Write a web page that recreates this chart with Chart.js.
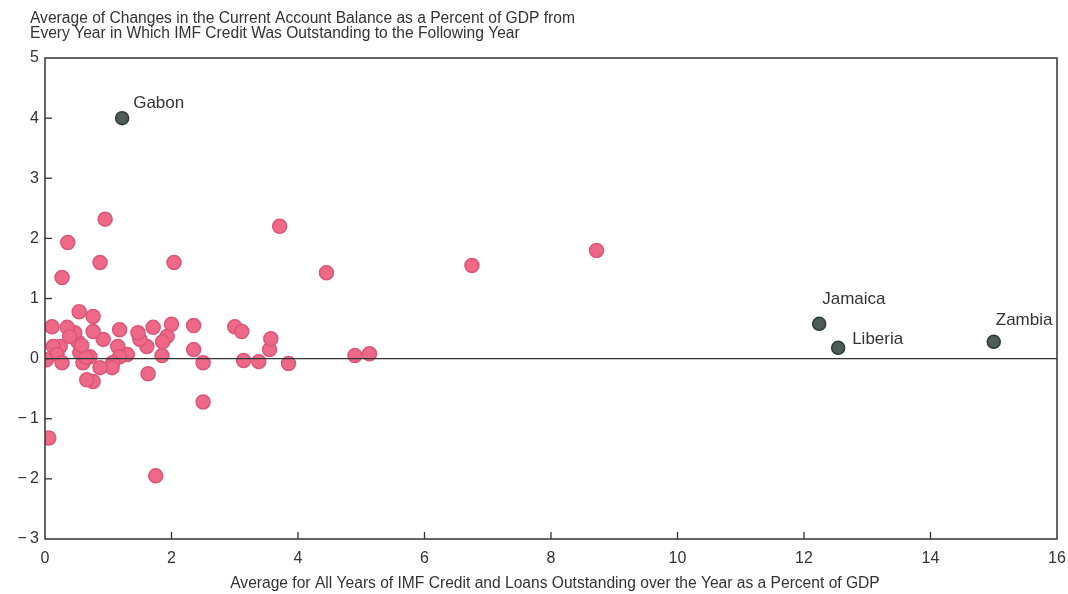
<!DOCTYPE html>
<html>
<head>
<meta charset="utf-8">
<script src="https://cdn.jsdelivr.net/npm/chart.js@4.4.1/dist/chart.umd.min.js"></script>
<style>
  html, body { margin: 0; padding: 0; background: #ffffff; }
  #wrap { width: 1068px; height: 594px; position: relative; }
</style>
</head>
<body>
<div id="wrap"><canvas id="c" width="1068" height="594"></canvas></div>
<script>
// ---- Data ----
const titleLines = [
  "Average of Changes in the Current Account Balance as a Percent of GDP from",
  "Every Year in Which IMF Credit Was Outstanding to the Following Year"
];
const xAxisTitle = "Average for All Years of IMF Credit and Loans Outstanding over the Year as a Percent of GDP";

const otherX = [0.06, 0.11, 0.27, 0.36, 0.87, 0.95, 2.04, 3.71, 4.45, 6.75, 8.72, 1.75, 2.50, 1.63,
  4.90, 5.13, 3.85, 3.14, 3.38, 3.55, 3.57, 3.00, 3.11, 2.35, 2.35, 2.50, 2.00, 1.93, 1.86, 1.85,
  1.71, 1.61, 1.50, 1.47, 1.30, 1.18, 1.15, 1.18, 1.07, 1.06, 0.92, 0.87, 0.76, 0.76, 0.76, 0.66,
  0.71, 0.60, 0.55, 0.52, 0.54, 0.47, 0.35, 0.24, 0.13, 0.19, 0.27, 0.02, 0.39, 0.65, 0.58];
const otherY = [-1.32, 0.53, 1.35, 1.93, 1.60, 2.32, 1.60, 2.20, 1.43, 1.55, 1.80, -1.95, -0.72, -0.25,
  0.05, 0.08, -0.08, -0.03, -0.05, 0.15, 0.33, 0.53, 0.45, 0.55, 0.15, -0.07, 0.57, 0.37, 0.28, 0.05,
  0.52, 0.20, 0.32, 0.43, 0.07, 0.48, 0.20, 0.03, -0.07, -0.15, 0.32, -0.15, 0.45, 0.70, -0.38, -0.35,
  0.03, -0.07, 0.10, 0.28, 0.78, 0.43, 0.52, 0.20, 0.20, 0.07, -0.07, -0.02, 0.37, 0.02, 0.22];

const namedCountries = ["Gabon", "Jamaica", "Liberia", "Zambia"];
const namedX = [1.22, 12.24, 12.54, 15.0];
const namedY = [4.0, 0.58, 0.18, 0.28];

const xTicks = [0, 2, 4, 6, 8, 10, 12, 14, 16];
const yTicks = [-3, -2, -1, 0, 1, 2, 3, 4, 5];

// ---- Build chart ----
const FONT = "'Liberation Sans', Arial, Helvetica, sans-serif";
const INK = "#333333";

const otherPts = otherX.map((x, i) => ({ x: x, y: otherY[i] }));
const namedPts = namedX.map((x, i) => ({ x: x, y: namedY[i], name: namedCountries[i] }));

// label offsets (pixels) relative to the point, styling only
const labelOffsets = { "Gabon": [11, -15], "Jamaica": [3, -24], "Liberia": [14, -8], "Zambia": [2, -21] };

const framePlugin = {
  id: "frame",
  afterDatasetsDraw(chart) {
    const ctx = chart.ctx;
    const a = chart.chartArea;
    const xs = chart.scales.x, ys = chart.scales.y;
    ctx.save();
    ctx.strokeStyle = INK;
    ctx.lineWidth = 1.5;
    ctx.strokeRect(a.left, a.top, a.right - a.left, a.bottom - a.top);
    const y0 = ys.getPixelForValue(0);
    ctx.lineWidth = 1.3;
    ctx.beginPath(); ctx.moveTo(a.left, y0); ctx.lineTo(a.right, y0); ctx.stroke();
    yTicks.forEach(v => {
      if (v === yTicks[0] || v === yTicks[yTicks.length - 1]) return;
      const p = ys.getPixelForValue(v);
      ctx.beginPath(); ctx.moveTo(a.left, p); ctx.lineTo(a.left + 7, p); ctx.stroke();
    });
    xTicks.forEach(v => {
      if (v === xTicks[0] || v === xTicks[xTicks.length - 1]) return;
      const p = xs.getPixelForValue(v);
      ctx.beginPath(); ctx.moveTo(p, a.bottom); ctx.lineTo(p, a.bottom - 7); ctx.stroke();
    });
    ctx.fillStyle = INK;
    ctx.font = "17px " + FONT;
    ctx.textBaseline = "middle";
    ctx.textAlign = "left";
    namedPts.forEach(p => {
      const off = labelOffsets[p.name] || [8, -12];
      ctx.fillText(p.name, xs.getPixelForValue(p.x) + off[0], ys.getPixelForValue(p.y) + off[1]);
    });
    ctx.font = "15.6px " + FONT;
    ctx.textBaseline = "alphabetic";
    ctx.fillText(titleLines[0], 30, 23);
    ctx.fillText(titleLines[1], 30, 38);
    ctx.textAlign = "center";
    ctx.font = "15.6px " + FONT;
    ctx.fillText(xAxisTitle, 555, 588);
    ctx.restore();
  }
};

new Chart(document.getElementById("c"), {
  type: "scatter",
  data: {
    datasets: [
      {
        label: "Others",
        data: otherPts,
        backgroundColor: "#ee6888",
        borderColor: "#dc5777",
        borderWidth: 1.5,
        pointRadius: 7,
        pointHoverRadius: 7
      },
      {
        label: "Named",
        data: namedPts,
        backgroundColor: "#4d5c57",
        borderColor: "#2f3a37",
        borderWidth: 1.5,
        pointRadius: 6.5,
        pointHoverRadius: 6.5
      }
    ]
  },
  options: {
    responsive: false,
    animation: false,
    devicePixelRatio: 1,
    layout: { padding: { left: 0, right: 11, top: 58, bottom: 0 } },
    plugins: { legend: { display: false }, tooltip: { enabled: false }, title: { display: false } },
    scales: {
      x: {
        type: "linear",
        min: xTicks[0], max: xTicks[xTicks.length - 1],
        afterBuildTicks: s => { s.ticks = xTicks.map(v => ({ value: v })); },
        afterFit: s => { s.height = 55; s.paddingLeft = 0; s.paddingRight = 0; },
        grid: { display: false, drawTicks: false },
        border: { display: false },
        ticks: {
          color: INK, padding: 10,
          font: { family: FONT, size: 16 },
          maxRotation: 0,
          callback: v => String(v)
        }
      },
      y: {
        type: "linear",
        min: yTicks[0], max: yTicks[yTicks.length - 1],
        afterBuildTicks: s => { s.ticks = yTicks.map(v => ({ value: v })); },
        afterFit: s => { s.width = 45; s.paddingTop = 0; s.paddingBottom = 0; },
        grid: { display: false, drawTicks: false },
        border: { display: false },
        ticks: {
          color: INK, padding: 6,
          font: { family: FONT, size: 16 },
          callback: v => (v < 0 ? "\u2212\u2009" + Math.abs(v) : String(v))
        }
      }
    }
  },
  plugins: [framePlugin]
});
</script>
</body>
</html>
